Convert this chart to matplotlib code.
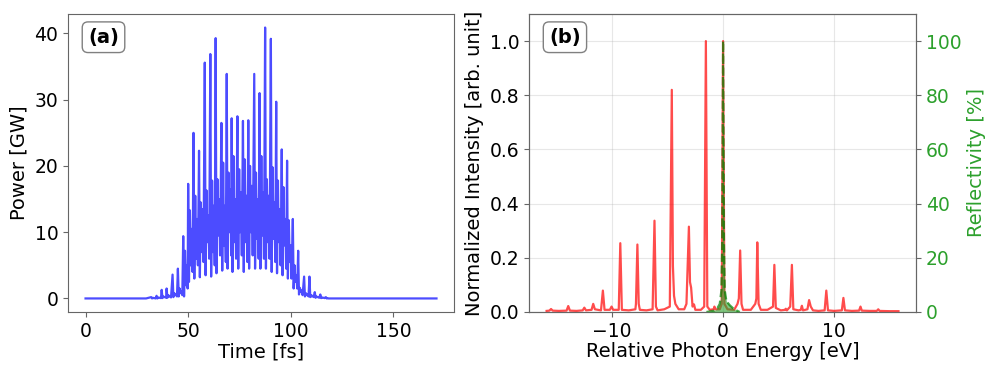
import matplotlib
matplotlib.use("Agg")
import matplotlib.pyplot as plt
import numpy as np

# ---------------- data ----------------
# Panel (a): pulse train, one row per optical period
major_t = [32.0, 34.6, 37.1, 39.5, 42.4, 45.0, 47.6, 50.0, 52.6, 55.3, 58.1, 60.8,
           63.4, 66.2, 68.8, 71.2, 74.0, 76.7, 79.3, 82.2, 84.8, 87.5, 90.3, 92.9,
           95.6, 98.2, 101.0, 103.6, 106.5, 109.1, 111.7, 114.4, 117.1]
major_p = [0.2, 0.4, 1.3, 1.5, 3.6, 4.5, 9.4, 17.3, 25.0, 22.3, 35.6, 36.9,
           39.3, 26.5, 33.9, 27.2, 27.5, 26.8, 26.9, 33.9, 31.0, 40.9, 39.2, 29.7,
           22.5, 20.8, 12.0, 7.2, 3.3, 3.3, 0.95, 0.6, 0.2]
low_p = [0.0, 0.0, 0.05, 0.1, 0.2, 0.3, 0.3, 2.5, 3.0, 3.2, 3.5, 3.3,
         3.8, 4.2, 4.5, 4.0, 4.5, 4.0, 4.5, 4.5, 4.5, 4.5, 4.0, 3.8,
         3.5, 3.0, 1.5, 0.6, 0.3, 0.2, 0.1, 0.05, 0.0]
sec_p = [0.1, 0.15, 0.3, 0.5, 0.8, 1.5, 7.2, 13.3, 15.5, 14.5, 16.3, 17.8,
         18.0, 20.5, 19.0, 21.5, 19.5, 21.0, 20.0, 19.0, 21.5, 18.0, 19.8, 17.8,
         16.8, 11.8, 5.0, 1.6, 0.8, 0.5, 0.3, 0.15, 0.05]
mid_p = [0.05, 0.1, 0.2, 0.3, 0.5, 0.8, 2.0, 5.0, 6.0, 7.0, 8.5, 7.0,
         9.5, 8.0, 10.0, 8.5, 10.0, 8.5, 10.0, 9.0, 9.5, 8.5, 9.0, 8.5,
         8.0, 5.5, 2.5, 1.0, 0.5, 0.3, 0.2, 0.1, 0.0]
sec2_p = [0.05, 0.1, 0.2, 0.3, 0.6, 1.0, 5.0, 10.5, 12.0, 13.5, 12.5, 14.0,
          15.0, 14.0, 16.5, 15.0, 16.0, 15.5, 17.0, 15.0, 16.0, 15.5, 14.5, 13.5,
          12.0, 8.0, 3.5, 1.2, 0.6, 0.4, 0.2, 0.1, 0.0]
low2_p = [0.0, 0.05, 0.1, 0.15, 0.3, 0.5, 1.5, 4.0, 5.0, 5.5, 6.0, 5.0,
          6.5, 5.5, 6.5, 6.0, 6.5, 5.5, 6.5, 6.0, 6.0, 6.0, 5.5, 5.0,
          4.5, 3.0, 1.5, 0.5, 0.3, 0.2, 0.1, 0.05, 0.0]
pulse_start, pulse_end = 0.0, 171.0

# Panel (b): spectrum vertices (relative photon energy [eV], normalized intensity)
spec_E = [-15.9, -15.65, -15.5, -15.35, -14.8, -14.1, -13.95, -13.8, -13.2, -12.65, -12.5, -12.35,
          -11.85, -11.7, -11.55, -11.0, -10.83, -10.68, -10.2, -10.05, -9.9, -9.4, -9.26, -9.12,
          -8.5, -7.9, -7.85, -7.72, -7.6, -7.5, -6.9, -6.35, -6.18, -6.05, -5.9, -5.3,
          -4.8, -4.62, -4.52, -4.42, -4.3, -4.0, -3.5, -3.3, -3.08, -2.98, -2.88, -2.75,
          -2.62, -2.5, -2.0, -1.7, -1.55, -1.42, -1.2, -0.85, -0.78, -0.7, -0.3, -0.12,
          0.0, 0.12, 0.4, 1.0, 1.3, 1.42, 1.54, 1.66, 1.8, 2.5, 2.9, 3.0,
          3.08, 3.2, 3.4, 4.0, 4.5, 4.62, 4.75, 5.2, 5.6, 5.65, 5.75, 6.05,
          6.2, 6.33, 6.8, 7.0, 7.1, 7.2, 7.6, 7.75, 7.9, 8.1, 8.6, 9.15,
          9.3, 9.45, 10.0, 10.7, 10.84, 10.98, 11.6, 12.25, 12.38, 12.5, 13.2, 13.85,
          13.98, 14.1, 15.0, 15.8]
spec_I = [0.004, 0.005, 0.011, 0.005, 0.004, 0.005, 0.022, 0.005, 0.004, 0.006, 0.016, 0.006,
          0.008, 0.030, 0.010, 0.006, 0.079, 0.008, 0.008, 0.020, 0.008, 0.008, 0.254, 0.008,
          0.006, 0.010, 0.030, 0.249, 0.030, 0.008, 0.006, 0.010, 0.337, 0.020, 0.006, 0.010,
          0.020, 0.820, 0.170, 0.060, 0.030, 0.010, 0.010, 0.030, 0.315, 0.110, 0.090, 0.020,
          0.028, 0.008, 0.008, 0.020, 1.000, 0.020, 0.008, 0.010, 0.020, 0.010, 0.010, 0.030,
          1.000, 0.030, 0.010, 0.008, 0.030, 0.050, 0.227, 0.030, 0.008, 0.008, 0.030, 0.050,
          0.257, 0.030, 0.008, 0.008, 0.020, 0.174, 0.015, 0.006, 0.008, 0.012, 0.006, 0.020,
          0.174, 0.010, 0.006, 0.008, 0.023, 0.006, 0.010, 0.044, 0.020, 0.006, 0.004, 0.006,
          0.079, 0.006, 0.004, 0.006, 0.052, 0.006, 0.004, 0.005, 0.020, 0.005, 0.004, 0.004,
          0.010, 0.004, 0.003, 0.003]

# Reflectivity [%]
refl_E = [-1.5, -0.8, -0.5, -0.3, -0.15, -0.08, -0.04, 0.0, 0.04, 0.08, 0.15, 0.3, 0.6, 1.0, 1.5]
refl_R = [0.0, 0.5, 1.5, 3.0, 8.0, 25.0, 60.0, 100.0, 60.0, 25.0, 8.0, 4.0, 2.5, 1.0, 0.0]

# ---------------- build pulse polyline from per-period readings ----------------
pulse_t = [pulse_start, 29.5]
pulse_p = [0.0, 0.0]
for t, P, L, S, M, S2, L2 in zip(major_t, major_p, low_p, sec_p, mid_p, sec2_p, low2_p):
    pulse_t += [t, t + 0.4, t + 0.85, t + 1.25, t + 1.7, t + 2.15]
    pulse_p += [P, L, S, M, S2, L2]
pulse_t += [120.0, pulse_end]
pulse_p += [0.0, 0.0]

# ---------------- figure ----------------
TICK = 13.5
LAB = 14
GREEN = '#2ca02c'
SPINE = '#666666'

fig = plt.figure(figsize=(9.97, 3.74), dpi=100)
axA = fig.add_axes([0.0682, 0.1658, 0.3872, 0.7968])
axB = fig.add_axes([0.5306, 0.1658, 0.3882, 0.7968])

# Panel (a)
axA.plot(pulse_t, pulse_p, color='blue', alpha=0.7, lw=1.6)
axA.set_xlabel('Time [fs]', fontsize=LAB, labelpad=1)
axA.set_ylabel('Power [GW]', fontsize=LAB, labelpad=4)
axA.set_xticks([0, 50, 100, 150])
axA.set_yticks([0, 10, 20, 30, 40])
axA.tick_params(labelsize=TICK, color=SPINE)
axA.text(0.052, 0.922, '(a)', transform=axA.transAxes, fontsize=14, fontweight='bold',
         ha='left', va='center',
         bbox=dict(boxstyle='round,pad=0.3', facecolor='white', edgecolor='gray'))

# Panel (b)
axB.plot(spec_E, spec_I, color='red', alpha=0.7, lw=1.6, zorder=3)
axB.set_ylim(0, 1.1)
axB.set_xlabel('Relative Photon Energy [eV]', fontsize=LAB, labelpad=1)
axB.set_ylabel('Normalized Intensity [arb. unit]', fontsize=LAB, labelpad=4)
axB.set_xticks([-10, 0, 10])
axB.set_yticks([0.0, 0.2, 0.4, 0.6, 0.8, 1.0])
axB.tick_params(labelsize=TICK, color=SPINE)
axB.grid(True, alpha=0.3)
axB.text(0.052, 0.922, '(b)', transform=axB.transAxes, fontsize=14, fontweight='bold',
         ha='left', va='center', zorder=10,
         bbox=dict(boxstyle='round,pad=0.3', facecolor='white', edgecolor='gray'))

axR = axB.twinx()
axR.fill_between(refl_E, refl_R, color=GREEN, alpha=0.6, lw=0, zorder=4)
axR.plot(refl_E, refl_R, color='green', ls='--', lw=1.6, alpha=0.7, zorder=5)
axR.set_ylim(0, 110)
axR.set_yticks([0, 20, 40, 60, 80, 100])
axR.set_ylabel('Reflectivity [%]', fontsize=LAB, color=GREEN, labelpad=4)
axR.tick_params(axis='y', labelsize=TICK, labelcolor=GREEN, color=SPINE)

for ax in (axA, axB, axR):
    for s in ax.spines.values():
        s.set_color(SPINE)

fig.savefig('out.png', dpi=100)
